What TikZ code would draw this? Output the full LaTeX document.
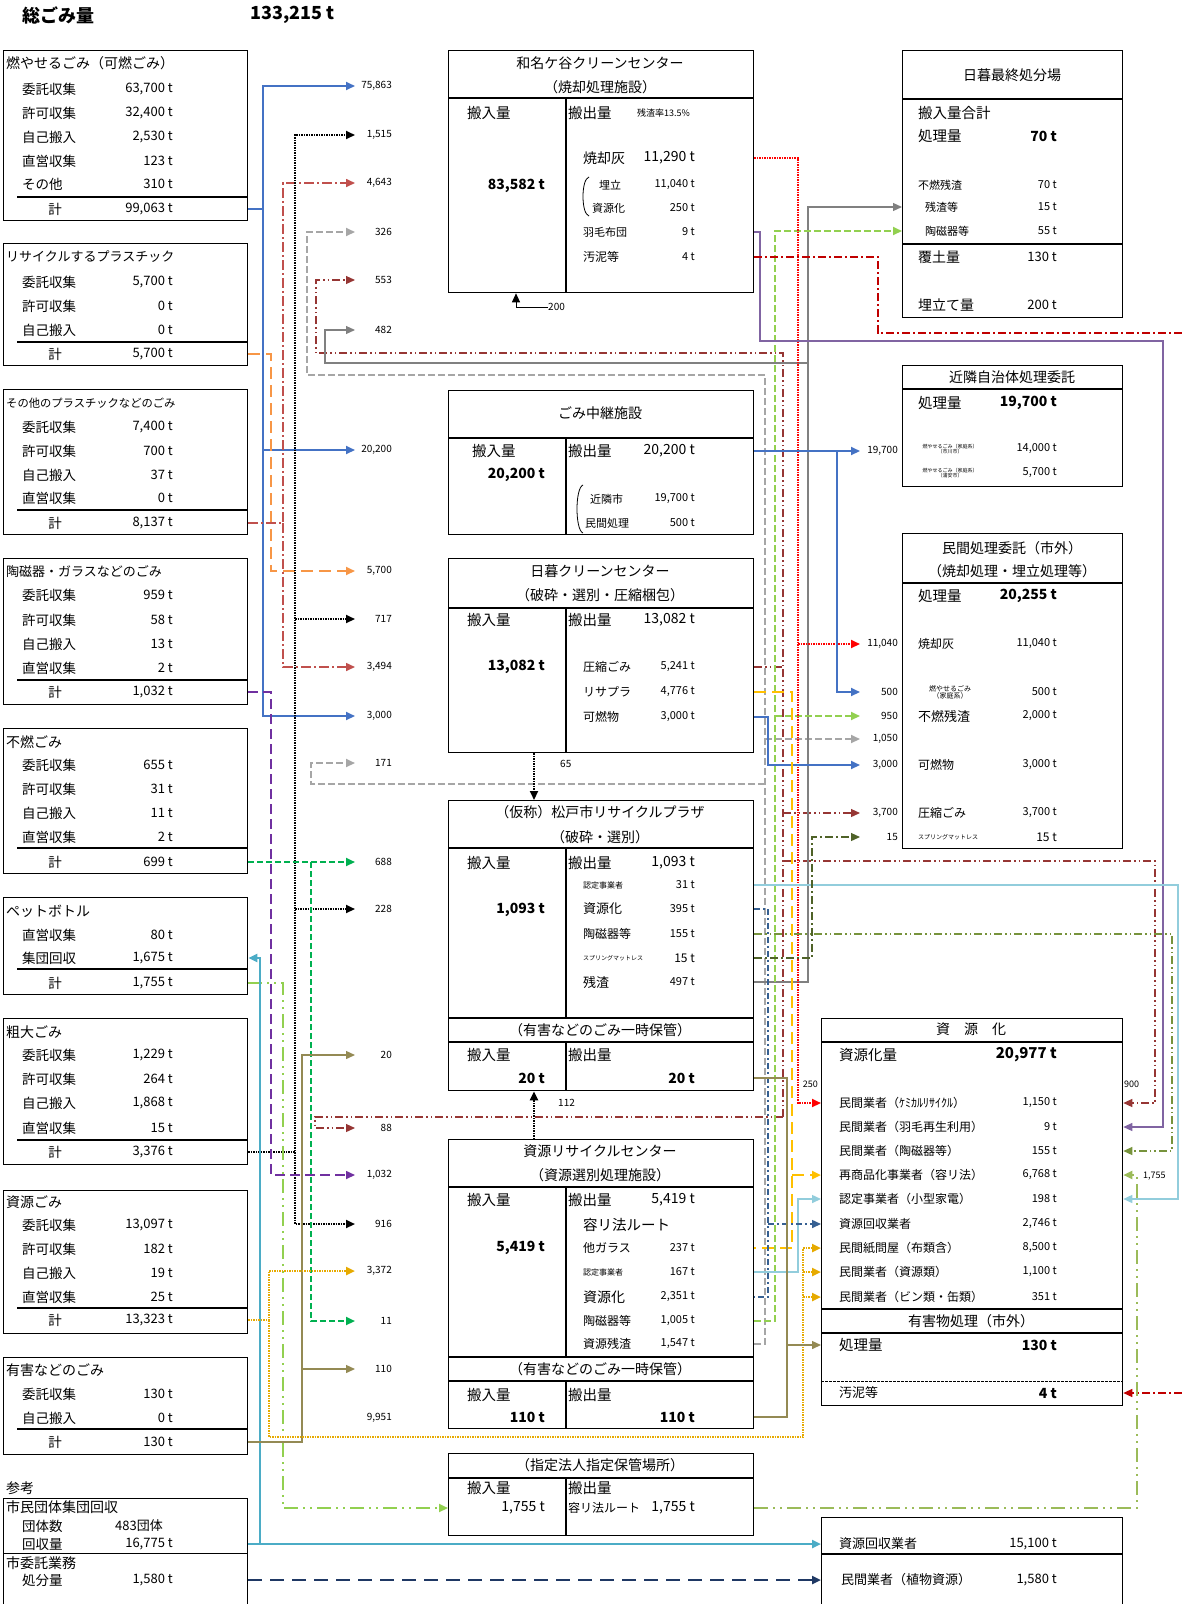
\documentclass[tikz,border=0pt]{standalone}
\usepackage{fontspec}
\setmainfont{Noto Sans CJK JP}
\usepackage{xcolor}
\usetikzlibrary{arrows.meta}

\definecolor{cBlue}{RGB}{68,114,196}
\definecolor{cOrange}{RGB}{247,150,70}
\definecolor{cRed}{RGB}{192,80,77}
\definecolor{cPurple}{RGB}{112,48,160}
\definecolor{cGreen}{RGB}{0,176,80}
\definecolor{cYG}{RGB}{146,208,80}
\definecolor{cCyan}{RGB}{75,172,198}
\definecolor{cKhaki}{RGB}{148,138,84}
\definecolor{cGold}{RGB}{230,170,0}
\definecolor{cNavy}{RGB}{31,56,100}
\definecolor{cGray}{RGB}{166,166,166}
\definecolor{cBrown}{RGB}{150,54,52}
\definecolor{cGrayS}{RGB}{128,128,128}
\definecolor{cLav}{RGB}{128,100,162}
\definecolor{cDRed}{RGB}{192,0,0}
\definecolor{cAmber}{RGB}{255,192,0}
\definecolor{cLBlue}{RGB}{146,205,220}
\definecolor{cDBlue}{RGB}{54,96,146}
\definecolor{cOlive}{RGB}{119,147,60}
\definecolor{cDOlive}{RGB}{79,98,40}
\definecolor{cYGtwo}{RGB}{155,187,89}

\newcommand\fz[1]{\fontsize{#1}{#1}\selectfont}
% left boxes: one row, and the sum row
\newcommand\lrow[4]{\node[tl] (#1l) at (22,#2) {#3}; \node[tv] (#1) at (173,#2) {#4};}
\newcommand\lsum[3]{\node[tl, anchor=center] (#1l) at (55,#2) {計}; \node[tv] (#1) at (173,#2) {#3};}
% generic row: name, x, y, label, xv, value, label size, value size
\newcommand\trow[8]{\node[anchor=west, inner sep=0pt, font=\fz{#7}] (#1l) at (#2,#3) {#4};
  \node[anchor=east, inner sep=0pt, font=\fz{#8}] (#1) at (#5,#3) {#6};}

\begin{document}
\begin{tikzpicture}[x=1pt, y=-1pt,
  bx/.style={draw, line width=1.3pt, inner sep=0pt, anchor=north west},
  bl/.style={line width=1.3pt},
  tl/.style={anchor=west, inner sep=0pt, font=\fz{13.5}},
  tv/.style={anchor=east, inner sep=0pt, font=\fz{13}},
  ct/.style={inner sep=0pt, font=\fz{14}},
  ml/.style={anchor=west, inner sep=0pt, font=\fz{14.5}},
  mv/.style={anchor=east, inner sep=0pt, font=\fz{14}},
  bv/.style={anchor=east, inner sep=0pt, font=\fz{14}\bfseries},
  ch/.style={anchor=east, inner sep=0pt, font=\fz{10}},
  arr/.style={-{Triangle[length=9pt,width=8pt]}},
  lBlue/.style={draw=cBlue, line width=2pt},
  lOra/.style={draw=cOrange, line width=2pt, dash pattern=on 12pt off 6pt},
  lRed/.style={draw=cRed, line width=1.6pt, dash pattern=on 10pt off 3pt on 2pt off 3pt},
  lBlk/.style={draw=black, line width=2pt, dash pattern=on 1.5pt off 1pt},
  lPur/.style={draw=cPurple, line width=1.6pt, dash pattern=on 10pt off 5pt},
  lGrn/.style={draw=cGreen, line width=2pt, dash pattern=on 6pt off 3pt},
  lPet/.style={draw=cYG, line width=1.8pt, dash pattern=on 14pt off 5pt on 2pt off 5pt on 2pt off 5pt},
  lCya/.style={draw=cCyan, line width=2.2pt},
  lKha/.style={draw=cKhaki, line width=1.4pt},
  lGdd/.style={draw=cGold, line width=2.5pt, dash pattern=on 1.5pt off 1pt},
  lNav/.style={draw=cNavy, line width=2.5pt, dash pattern=on 14pt off 8pt},
  lGyd/.style={draw=cGray, line width=2pt, dash pattern=on 7pt off 3pt},
  lBrn/.style={draw=cBrown, line width=1.2pt, dash pattern=on 8pt off 3pt on 1.5pt off 3pt on 1.5pt off 3pt},
  lGys/.style={draw=cGrayS, line width=1.2pt},
  lRdd/.style={draw=red, line width=2pt, dash pattern=on 1.5pt off 1pt},
  lLav/.style={draw=cLav, line width=1.3pt},
  lDrd/.style={draw=cDRed, line width=1.2pt, dash pattern=on 8pt off 3pt on 2pt off 3pt},
  lAmb/.style={draw=cAmber, line width=2.5pt, dash pattern=on 12pt off 6pt},
  lLbl/.style={draw=cLBlue, line width=1.5pt},
  lDbl/.style={draw=cDBlue, line width=1.5pt, dash pattern=on 6pt off 3pt on 2pt off 3pt},
  lOlv/.style={draw=cOlive, line width=1.2pt, dash pattern=on 8pt off 3pt on 1.5pt off 3pt on 1.5pt off 3pt},
  lDol/.style={draw=cDOlive, line width=1.2pt, dash pattern=on 8pt off 3pt on 2pt off 3pt},
  lYgt/.style={draw=cYGtwo, line width=2pt, dash pattern=on 14pt off 5pt on 2pt off 5pt on 2pt off 5pt}
]
\useasboundingbox (0,0) rectangle (1182,1604);

\node[anchor=west, inner sep=0pt, font=\fz{18}\bfseries] (total) at (22,15) {総ごみ量};
\node[anchor=west, inner sep=0pt, font=\fz{18}\bfseries] (totalv) at (250,15) {133,215 t};

% ---- sources (left column)
\node[bx, minimum width=244, minimum height=170] (kanen) at (3,50) {};
\node[tl, font=\fz{14}] (kanenH) at (6,63) {燃やせるごみ（可燃ごみ）};
\lrow{k1}{89}{委託収集}{63,700 t}
\lrow{k2}{113}{許可収集}{32,400 t}
\lrow{k3}{137}{自己搬入}{2,530 t}
\lrow{k4}{161}{直営収集}{123 t}
\lrow{k5}{184}{その他}{310 t}
\draw[bl] (17,197) -- (247,197);
\lsum{kanenT}{209}{99,063 t}

\node[bx, minimum width=244, minimum height=122] (repla) at (3,243) {};
\node[tl, font=\fz{13}] (replaH) at (6,257) {リサイクルするプラスチック};
\lrow{r1}{282}{委託収集}{5,700 t}
\lrow{r2}{306}{許可収集}{0 t}
\lrow{r3}{330}{自己搬入}{0 t}
\draw[bl] (17,342) -- (247,342);
\lsum{replaT}{354}{5,700 t}

\node[bx, minimum width=244, minimum height=145] (sonota) at (3,389) {};
\node[tl, font=\fz{11.3}] (sonotaH) at (6,403) {その他のプラスチックなどのごみ};
\lrow{o1}{427}{委託収集}{7,400 t}
\lrow{o2}{451}{許可収集}{700 t}
\lrow{o3}{475}{自己搬入}{37 t}
\lrow{o4}{498}{直営収集}{0 t}
\draw[bl] (17,510) -- (247,510);
\lsum{sonotaT}{523}{8,137 t}

\node[bx, minimum width=244, minimum height=146] (toji) at (3,558) {};
\node[tl, font=\fz{13}] (tojiH) at (6,572) {陶磁器・ガラスなどのごみ};
\lrow{t1}{595}{委託収集}{959 t}
\lrow{t2}{620}{許可収集}{58 t}
\lrow{t3}{644}{自己搬入}{13 t}
\lrow{t4}{668}{直営収集}{2 t}
\draw[bl] (17,680) -- (247,680);
\lsum{tojiT}{692}{1,032 t}

\node[bx, minimum width=244, minimum height=145] (funen) at (3,728) {};
\node[tl, font=\fz{14}] (funenH) at (6,742) {不燃ごみ};
\lrow{f1}{765}{委託収集}{655 t}
\lrow{f2}{789}{許可収集}{31 t}
\lrow{f3}{813}{自己搬入}{11 t}
\lrow{f4}{837}{直営収集}{2 t}
\draw[bl] (17,848) -- (247,848);
\lsum{funenT}{862}{699 t}

\node[bx, minimum width=244, minimum height=97] (pet) at (3,897) {};
\node[tl, font=\fz{14}] (petH) at (6,911) {ペットボトル};
\lrow{p1}{935}{直営収集}{80 t}
\lrow{petC}{958}{集団回収}{1,675 t}
\draw[bl] (17,969) -- (247,969);
\lsum{petT}{983}{1,755 t}

\node[bx, minimum width=244, minimum height=146] (sodai) at (3,1018) {};
\node[tl, font=\fz{14}] (sodaiH) at (6,1032) {粗大ごみ};
\lrow{d1}{1055}{委託収集}{1,229 t}
\lrow{d2}{1079}{許可収集}{264 t}
\lrow{d3}{1103}{自己搬入}{1,868 t}
\lrow{d4}{1128}{直営収集}{15 t}
\draw[bl] (17,1140) -- (247,1140);
\lsum{sodaiT}{1152}{3,376 t}

\node[bx, minimum width=244, minimum height=143] (shigen) at (3,1190) {};
\node[tl, font=\fz{14}] (shigenH) at (6,1202) {資源ごみ};
\lrow{g1}{1225}{委託収集}{13,097 t}
\lrow{g2}{1249}{許可収集}{182 t}
\lrow{g3}{1273}{自己搬入}{19 t}
\lrow{g4}{1297}{直営収集}{25 t}
\draw[bl] (17,1308) -- (247,1308);
\lsum{shigenT}{1320}{13,323 t}

\node[bx, minimum width=244, minimum height=97] (yugai) at (3,1357) {};
\node[tl, font=\fz{14}] (yugaiH) at (6,1370) {有害などのごみ};
\lrow{y1}{1394}{委託収集}{130 t}
\lrow{y2}{1418}{自己搬入}{0 t}
\draw[bl] (17,1429) -- (247,1429);
\lsum{yugaiT}{1442}{130 t}

\node[tl, font=\fz{14}] (sanko) at (6,1488) {参考};
\node[bx, minimum width=244, minimum height=55] (shimin) at (3,1498) {};
\node[tl, font=\fz{14}] (shiminH) at (6,1507) {市民団体集団回収};
\node[tl] (dantail) at (22,1526) {団体数};
\node[tv] (dantai) at (163,1526) {483団体};
\node[tl] (shiminVl) at (22,1544) {回収量};
\node[tv] (shiminV) at (173,1544) {16,775 t};
\node[bx, minimum width=244, minimum height=70] (itaku) at (3,1553) {};
\node[tl, font=\fz{14}] (itakuH) at (6,1563) {市委託業務};
\node[tl] (itakuVl) at (22,1580) {処分量};
\node[tv] (itakuV) at (173,1580) {1,580 t};

% ---- facilities (middle column)
\node[bx, minimum width=305, minimum height=242] (wana) at (448,50) {};
\draw[bl] (448,98) -- (753,98);
\draw[bl] (566,98) -- (566,292);
\node[ct] (wanaH1) at (600,63) {和名ケ谷クリーンセンター};
\node[ct] (wanaH2) at (600,87) {（焼却処理施設）};
\node[ml] (wIn) at (467,113) {搬入量};
\node[ml] (wOut) at (568,113) {搬出量};
\node[anchor=west, inner sep=0pt, font=\fz{9}] (wRate) at (637,113) {残渣率13.5\%};
\node[bv] (wInV) at (545,186) {83,582 t};
\trow{wHai}{583}{158}{焼却灰}{695}{11,290 t}{14}{14}
\trow{wUme}{599}{185}{埋立}{695}{11,040 t}{11}{11}
\trow{wShi}{592}{208}{資源化}{695}{250 t}{11}{11}
\trow{wUmo}{583}{232}{羽毛布団}{695}{9 t}{11}{11}
\trow{wOde}{583}{257}{汚泥等}{695}{4 t}{12}{11}
\draw[line width=0.8pt] (589,177) .. controls (581,179) and (581,214) .. (589,216);
\node[anchor=west, inner sep=0pt, font=\fz{10}] (n200) at (548,307) {200};

\node[bx, minimum width=305, minimum height=144] (chukei) at (448,390) {};
\draw[bl] (448,438) -- (753,438);
\draw[bl] (566,438) -- (566,534);
\node[ct] (chukeiH) at (600,413) {ごみ中継施設};
\node[ml] (cIn) at (472,451) {搬入量};
\node[bv] (cInV) at (545,475) {20,200 t};
\node[ml] (cOut) at (568,451) {搬出量};
\node[mv] (cOutV) at (695,451) {20,200 t};
\draw[line width=0.8pt] (583,485) .. controls (575,488) and (575,530) .. (583,533);
\trow{cKin}{590}{499}{近隣市}{695}{19,700 t}{11}{11}
\trow{cMin}{585}{523}{民間処理}{695}{500 t}{11}{11}

\node[bx, minimum width=305, minimum height=194] (higure) at (448,558) {};
\draw[bl] (448,608) -- (753,608);
\draw[bl] (566,608) -- (566,752);
\node[ct] (higureH1) at (600,571) {日暮クリーンセンター};
\node[ct] (higureH2) at (600,595) {（破砕・選別・圧縮梱包）};
\node[ml] (hIn) at (467,620) {搬入量};
\node[ml] (hOut) at (568,620) {搬出量};
\node[mv] (hOutV) at (695,620) {13,082 t};
\node[bv] (hInV) at (545,667) {13,082 t};
\trow{hAsh}{583}{667}{圧縮ごみ}{695}{5,241 t}{12}{11}
\trow{hRis}{583}{692}{リサプラ}{695}{4,776 t}{12}{11}
\trow{hKan}{583}{717}{可燃物}{695}{3,000 t}{12}{11}

\node[bx, minimum width=305, minimum height=290] (plaza) at (448,800) {};
\draw[bl] (448,848) -- (753,848);
\draw[bl] (566,848) -- (566,1018);
\draw[bl] (448,1018) -- (753,1018);
\draw[bl] (448,1042) -- (753,1042);
\draw[bl] (566,1042) -- (566,1090);
\node[ct] (plazaH1) at (600,812) {（仮称）松戸市リサイクルプラザ};
\node[ct] (plazaH2) at (600,837) {（破砕・選別）};
\node[ml] (pIn) at (467,863) {搬入量};
\node[ml] (pOut) at (568,863) {搬出量};
\node[mv] (pOutV) at (695,863) {1,093 t};
\node[bv] (pInV) at (545,910) {1,093 t};
\trow{pNin}{583}{885}{認定事業者}{695}{31 t}{8}{11}
\trow{pShi}{583}{909}{資源化}{695}{395 t}{13}{11}
\trow{pTo}{583}{934}{陶磁器等}{695}{155 t}{12}{11}
\trow{pSpr}{583}{958}{スプリングマットレス}{695}{15 t}{6}{12}
\trow{pZan}{583}{982}{残渣}{695}{497 t}{13}{11}
\node[ct] (plazaH3) at (600,1030) {（有害などのごみ一時保管）};
\node[ml] (pYIn) at (467,1055) {搬入量};
\node[ml] (pYOut) at (568,1055) {搬出量};
\node[bv] (pYInV) at (545,1078) {20 t};
\node[bv] (pYOutV) at (695,1078) {20 t};

\node[bx, minimum width=305, minimum height=289] (src) at (448,1139) {};
\draw[bl] (448,1187) -- (753,1187);
\draw[bl] (566,1187) -- (566,1357);
\draw[bl] (448,1357) -- (753,1357);
\draw[bl] (448,1381) -- (753,1381);
\draw[bl] (566,1381) -- (566,1428);
\node[ct] (srcH1) at (600,1151) {資源リサイクルセンター};
\node[ct] (srcH2) at (600,1175) {（資源選別処理施設）};
\node[ml] (sIn) at (467,1200) {搬入量};
\node[ml] (sOut) at (568,1200) {搬出量};
\node[mv] (sOutV) at (695,1200) {5,419 t};
\node[ml] (sRoute) at (583,1225) {容リ法ルート};
\node[bv] (sInV) at (545,1248) {5,419 t};
\trow{sGla}{583}{1248}{他ガラス}{695}{237 t}{12}{11}
\trow{sNin}{583}{1272}{認定事業者}{695}{167 t}{8}{11}
\trow{sShi}{583}{1297}{資源化}{695}{2,351 t}{14}{11}
\trow{sTo}{583}{1321}{陶磁器等}{695}{1,005 t}{12}{11}
\trow{sZan}{583}{1344}{資源残渣}{695}{1,547 t}{12}{11}
\node[ct] (srcH3) at (600,1369) {（有害などのごみ一時保管）};
\node[ml] (sYIn) at (467,1395) {搬入量};
\node[ml] (sYOut) at (568,1395) {搬出量};
\node[bv] (sYInV) at (545,1417) {110 t};
\node[bv] (sYOutV) at (695,1417) {110 t};

\node[bx, minimum width=305, minimum height=82] (shitei) at (448,1453) {};
\draw[bl] (448,1478) -- (753,1478);
\draw[bl] (566,1478) -- (566,1535);
\node[ct] (shiteiH) at (600,1465) {（指定法人指定保管場所）};
\node[ml] (tIn) at (467,1488) {搬入量};
\node[mv] (tInV) at (545,1508) {1,755 t};
\node[ml] (tOut) at (568,1488) {搬出量};
\node[anchor=west, inner sep=0pt, font=\fz{12}] (tRoute) at (568,1508) {容リ法ルート};
\node[mv] (tOutV) at (695,1508) {1,755 t};

% ---- destinations (right column)
\node[bx, minimum width=220, minimum height=267] (saishu) at (902,50) {};
\draw[bl] (902,99) -- (1122,99);
\draw[bl] (902,244) -- (1122,244);
\node[ct] (saishuH) at (1012,75) {日暮最終処分場};
\node[ml] (aIn) at (918,113) {搬入量合計};
\node[ml] (aShori) at (918,136) {処理量};
\node[bv] (aShoriV) at (1057,136) {70 t};
\trow{aFun}{918}{185}{不燃残渣}{1057}{70 t}{11}{11}
\trow{aZan}{925}{207}{残渣等}{1057}{15 t}{11}{11}
\trow{aTo}{925}{231}{陶磁器等}{1057}{55 t}{11}{11}
\trow{aFuku}{918}{257}{覆土量}{1057}{130 t}{14}{13}
\trow{aUme}{918}{305}{埋立て量}{1057}{200 t}{14}{13}

\node[bx, minimum width=220, minimum height=121] (kinrin) at (902,365) {};
\draw[bl] (902,389) -- (1122,389);
\node[ct] (kinrinH) at (1012,377) {近隣自治体処理委託};
\node[ml] (kShori) at (918,403) {処理量};
\node[bv] (kShoriV) at (1057,403) {19,700 t};
\node[align=center, inner sep=0pt, font=\fz{5}] (kIchl) at (950,449) {燃やせるごみ（家庭系）\\（市川市）};
\node[anchor=east, inner sep=0pt, font=\fz{11}] (kIch) at (1057,449) {14,000 t};
\node[align=center, inner sep=0pt, font=\fz{5}] (kUral) at (950,473) {燃やせるごみ（家庭系）\\（浦安市）};
\node[anchor=east, inner sep=0pt, font=\fz{11}] (kUra) at (1057,473) {5,700 t};

\node[bx, minimum width=220, minimum height=315] (minkan) at (902,533) {};
\draw[bl] (902,583) -- (1122,583);
\node[ct] (minkanH1) at (1012,548) {民間処理委託（市外）};
\node[ct] (minkanH2) at (1012,571) {（焼却処理・埋立処理等）};
\node[ml] (mShori) at (918,596) {処理量};
\node[bv] (mShoriV) at (1057,596) {20,255 t};
\trow{mHai}{918}{644}{焼却灰}{1057}{11,040 t}{12}{11}
\node[align=center, inner sep=0pt, font=\fz{7}] (mKatl) at (950,692) {燃やせるごみ\\（家庭系）};
\node[anchor=east, inner sep=0pt, font=\fz{11}] (mKat) at (1057,692) {500 t};
\trow{mFun}{918}{716}{不燃残渣}{1057}{2,000 t}{13}{11}
\trow{mKan}{918}{765}{可燃物}{1057}{3,000 t}{12}{11}
\trow{mAsh}{918}{813}{圧縮ごみ}{1057}{3,700 t}{12}{11}
\trow{mSpr}{918}{837}{スプリングマットレス}{1057}{15 t}{6}{12}

\node[bx, minimum width=301, minimum height=387] (shigenka) at (821,1018) {};
\draw[bl] (821,1042) -- (1122,1042);
\draw[bl] (821,1309) -- (1122,1309);
\draw[bl] (821,1333) -- (1122,1333);
\draw[line width=1pt, dash pattern=on 3pt off 1pt] (821,1381) -- (1122,1381);
\node[ct] (shigenkaH) at (971,1029) {資　源　化};
\node[ml] (zRyo) at (839,1055) {資源化量};
\node[anchor=east, inner sep=0pt, font=\fz{15}\bfseries] (zRyoV) at (1057,1055) {20,977 t};
\trow{zChem}{839}{1103}{民間業者（ｹﾐｶﾙﾘｻｲｸﾙ）}{1057}{1,150 t}{12}{11}
\trow{zUmo}{839}{1127}{民間業者（羽毛再生利用）}{1057}{9 t}{12}{11}
\trow{zTo}{839}{1151}{民間業者（陶磁器等）}{1057}{155 t}{12}{11}
\trow{zSai}{839}{1175}{再商品化事業者（容リ法）}{1057}{6,768 t}{12}{11}
\trow{zNin}{839}{1199}{認定事業者（小型家電）}{1057}{198 t}{12}{11}
\trow{zKai}{839}{1224}{資源回収業者}{1057}{2,746 t}{12}{11}
\trow{zKami}{839}{1248}{民間紙問屋（布類含）}{1057}{8,500 t}{12}{11}
\trow{zRui}{839}{1272}{民間業者（資源類）}{1057}{1,100 t}{12}{11}
\trow{zBin}{839}{1297}{民間業者（ビン類・缶類）}{1057}{351 t}{12}{11}
\node[ct] (yugaiH2) at (971,1321) {有害物処理（市外）};
\node[ml] (zShori) at (839,1345) {処理量};
\node[bv] (zShoriV) at (1057,1345) {130 t};
\node[anchor=west, inner sep=0pt, font=\fz{13}] (zOdel) at (839,1393) {汚泥等};
\node[bv] (zOde) at (1057,1393) {4 t};

\node[bx, minimum width=301, minimum height=120] (kaishu) at (821,1517) {};
\draw[bl] (821,1554) -- (1122,1554);
\trow{kKai}{839}{1544}{資源回収業者}{1057}{15,100 t}{13}{13}
\trow{kSho}{841}{1580}{民間業者（植物資源）}{1057}{1,580 t}{13}{13}

% ---- flow figures
\node[ch] (n75863) at (392,86) {75,863};
\node[ch] (n1515) at (392,135) {1,515};
\node[ch] (n4643) at (392,183) {4,643};
\node[ch] (n326) at (392,232) {326};
\node[ch] (n553) at (392,280) {553};
\node[ch] (n482) at (392,330) {482};
\node[ch] (n20200) at (392,450) {20,200};
\node[ch] (n5700) at (392,571) {5,700};
\node[ch] (n717) at (392,619) {717};
\node[ch] (n3494) at (392,667) {3,494};
\node[ch] (n3000a) at (392,716) {3,000};
\node[ch] (n171) at (392,763) {171};
\node[ch] (n688) at (392,862) {688};
\node[ch] (n228) at (392,909) {228};
\node[ch] (n20) at (392,1055) {20};
\node[ch] (n88) at (392,1128) {88};
\node[ch] (n1032) at (392,1175) {1,032};
\node[ch] (n916) at (392,1224) {916};
\node[ch] (n3372) at (392,1271) {3,372};
\node[ch] (n11) at (392,1321) {11};
\node[ch] (n110) at (392,1369) {110};
\node[ch] (n9951) at (392,1418) {9,951};
\node[ch] (n19700) at (898,451) {19,700};
\node[ch] (n11040) at (898,644) {11,040};
\node[ch] (n500) at (898,692) {500};
\node[ch] (n950) at (898,716) {950};
\node[ch] (n1050) at (898,739) {1,050};
\node[ch] (n3000b) at (898,765) {3,000};
\node[ch] (n3700) at (898,813) {3,700};
\node[ch] (n15) at (898,837) {15};
\node[ch, font=\fz{9}] (n250) at (818,1084) {250};
\node[anchor=west, inner sep=0pt, font=\fz{9}] (n900) at (1124,1084) {900};
\node[anchor=west, inner sep=0pt, font=\fz{9}] (n1755) at (1143,1176) {1,755};
\node[anchor=west, inner sep=0pt, font=\fz{10}] (n65) at (560,764) {65};
\node[anchor=west, inner sep=0pt, font=\fz{10}] (n112) at (558,1103) {112};

% ---- trunk positions
\coordinate (tip) at (355,0);   \coordinate (tipR) at (860,0);  \coordinate (edge) at (1182,0);
\coordinate (xC) at (260,0);    \coordinate (xB) at (263,0);    \coordinate (xGd) at (269,0);
\coordinate (xO) at (271,0);    \coordinate (xP) at (271,0);    \coordinate (xR) at (283,0);
\coordinate (xK) at (295,0);    \coordinate (xOl) at (302,0);   \coordinate (xGyA) at (307,0);
\coordinate (xG) at (311,0);    \coordinate (xGyB) at (311,0);  \coordinate (xBrB) at (315,0);
\coordinate (xBrA) at (316,0);  \coordinate (xGs) at (325,0);
\coordinate (xLav) at (760,0);  \coordinate (xGyR) at (765,0);  \coordinate (xBlT) at (768,0);
\coordinate (xDB) at (768,0);   \coordinate (xGrR) at (775,0);  \coordinate (xBrR) at (783,0);
\coordinate (xOlR) at (787,0);  \coordinate (xAm) at (792,0);   \coordinate (xRdR) at (798,0);
\coordinate (xLb) at (798,0);   \coordinate (xGdR) at (803,0);  \coordinate (xGsR) at (808,0);
\coordinate (xSpr) at (812,0);  \coordinate (xBlR) at (837,0);  \coordinate (xDr) at (878,0);
\coordinate (xYGR) at (1137,0); \coordinate (xBrF) at (1155,0); \coordinate (xLavF) at (1163,0);
\coordinate (xOlF) at (1172,0); \coordinate (xLbF) at (1178,0);
\coordinate (x516) at (516,0);  \coordinate (x534) at (534,0);
\coordinate (yDr) at (0,333);   \coordinate (yLv) at (0,341);   \coordinate (yBrT) at (0,353);
\coordinate (yGs) at (0,363);   \coordinate (yGy) at (0,375);   \coordinate (yGyB) at (0,784);
\coordinate (yBrR) at (0,861);  \coordinate (yBrL) at (0,1117); \coordinate (yGd) at (0,1437);

% ---- left flows
\draw[lBlue, arr] (kanen.east |- kanenT) -| (xB |- n75863) -- (tip |- n75863);
\draw[lBlue, arr] (xB |- kanenT) -- (xB |- n3000a) -- (tip |- n3000a);
\draw[lBlue, arr] (xB |- n20200) -- (tip |- n20200);
\draw[lOra, arr] (repla.east |- replaT) -| (xO |- n5700) -- (tip |- n5700);
\draw[lRed, arr] (sonota.east |- sonotaT) -| (xR |- n4643) -- (tip |- n4643);
\draw[lRed, arr] (xR |- sonotaT) |- (tip |- n3494);
\draw[lBlk, arr] (sodai.east |- sodaiT) -| (xK |- n1515) -- (tip |- n1515);
\draw[lBlk, arr] (xK |- n717) -- (tip |- n717);
\draw[lBlk, arr] (xK |- n228) -- (tip |- n228);
\draw[lBlk, arr] (xK |- sodaiT) |- (tip |- n916);
\draw[lPur, arr] (toji.east |- tojiT) -| (xP |- n1032) -- (tip |- n1032);
\draw[lGrn, arr] (funen.east |- funenT) -- (tip |- n688);
\draw[lGrn, arr] (xG |- funenT) |- (tip |- n11);
\draw[lPet, arr] (pet.east |- petT) -| (xR |- tInV) -- (shitei.west |- tInV);
\draw[lCya, arr] (shimin.east |- shiminV) -- (kaishu.west |- kKai);
\draw[lCya, arr] (xC |- shiminV) |- (pet.east |- petC);
\draw[lKha, arr] (yugai.east |- yugaiT) -| (xOl |- n20) -- (tip |- n20);
\draw[lKha, arr] (xOl |- n110) -- (tip |- n110);
\draw[lGdd, arr] (shigen.east |- shigenT) -| (xGd |- n3372) -- (tip |- n3372);
\draw[lGdd, arr] (xGd |- shigenT) -- (xGd |- yGd) -| (xGdR |- zKami) -- (shigenka.west |- zKami);
\draw[lGdd, arr] (xGdR |- zRui) -- (shigenka.west |- zRui);
\draw[lGdd, arr] (xGdR |- zBin) -- (shigenka.west |- zBin);
\draw[lNav, arr] (itaku.east |- itakuV) -- (kaishu.west |- kSho);

% ---- facility flows
\draw[lGyd, arr] (src.east |- sZan) -| (xGyR |- yGy) -| (xGyA |- n326) -- (tip |- n326);
\draw[lGyd, arr] (xGyR |- yGyB) -| (xGyB |- n171) -- (tip |- n171);
\draw[lGyd, arr] (xGyR |- n1050) -- (tipR |- n1050);
\draw[lBrn] (higure.east |- hAsh) -- (xBrR |- hAsh);
\draw[lBrn, arr] (xBrR |- yBrL) -- (xBrR |- yBrT) -| (xBrA |- n553) -- (tip |- n553);
\draw[lBrn, arr] (xBrR |- yBrL) -| (xBrB |- n88) -- (tip |- n88);
\draw[lBrn, arr] (xBrR |- n3700) -- (tipR |- n3700);
\draw[lBrn, arr] (xBrR |- yBrR) -| (xBrF |- zChem) -- (shigenka.east |- zChem);
\draw[lGys, arr] (plaza.east |- pZan) -| (xGsR |- aZan) -- (saishu.west |- aZan);
\draw[lGys, arr] (xGsR |- yGs) -| (xGs |- n482) -- (tip |- n482);
\draw[lGyd, draw=cYG, arr] (src.east |- sTo) -| (xGrR |- aTo) -- (saishu.west |- aTo);
\draw[lGyd, draw=cYG, arr] (xGrR |- n950) -- (tipR |- n950);
\draw[lRdd, arr] (wana.east |- wHai) -| (xRdR |- zChem) -- (shigenka.west |- zChem);
\draw[lRdd, arr] (xRdR |- n11040) -- (tipR |- n11040);
\draw[lLav, arr] (wana.east |- wUmo) -| (xLav |- yLv) -| (xLavF |- zUmo) -- (shigenka.east |- zUmo);
\draw[lDrd] (wana.east |- wOde) -| (xDr |- yDr) -- (edge |- yDr);
\draw[lDrd, arr] (edge |- zOde) -- (shigenka.east |- zOde);
\draw[lBlue, arr] (chukei.east |- cOutV) -- (tipR |- n19700);
\draw[lBlue, arr] (xBlR |- n19700) |- (tipR |- n500);
\draw[lBlue, arr] (higure.east |- hKan) -| (xBlT |- n3000b) -- (tipR |- n3000b);
\draw[lAmb] (higure.east |- hRis) -| (xAm |- sGla) -- (src.east |- sGla);
\draw[lAmb, arr] (xAm |- zSai) -- (shigenka.west |- zSai);
\draw[lLbl, arr] (plaza.east |- pNin) -| (xLbF |- zNin) -- (shigenka.east |- zNin);
\draw[lLbl, arr] (src.east |- sNin) -| (xLb |- zNin) -- (shigenka.west |- zNin);
\draw[lDbl] (plaza.east |- pShi) -| (xDB |- sShi) -- (src.east |- sShi);
\draw[lDbl, arr] (xDB |- zKai) -- (shigenka.west |- zKai);
\draw[lOlv, arr] (plaza.east |- pTo) -| (xOlF |- zTo) -- (shigenka.east |- zTo);
\draw[lDol, arr] (plaza.east |- pSpr) -| (xSpr |- n15) -- (tipR |- n15);
\draw[lKha] (plaza.east |- pYOutV) -| (xOlR |- zShori);
\draw[lKha, arr] (src.east |- sYOutV) -| (xOlR |- zShori) -- (shigenka.west |- zShori);
\draw[lYgt, arr] (shitei.east |- tOutV) -| (xYGR |- zSai) -- (shigenka.east |- zSai);
\draw[lBlk, arr] (higure.south -| x534) -- (plaza.north -| x534);
\draw[lBlk, arr] (src.north -| x534) -- (plaza.south -| x534);
\draw[line width=1pt, arr] (n200.west) -| (wana.south -| x516);
\end{tikzpicture}
\end{document}
